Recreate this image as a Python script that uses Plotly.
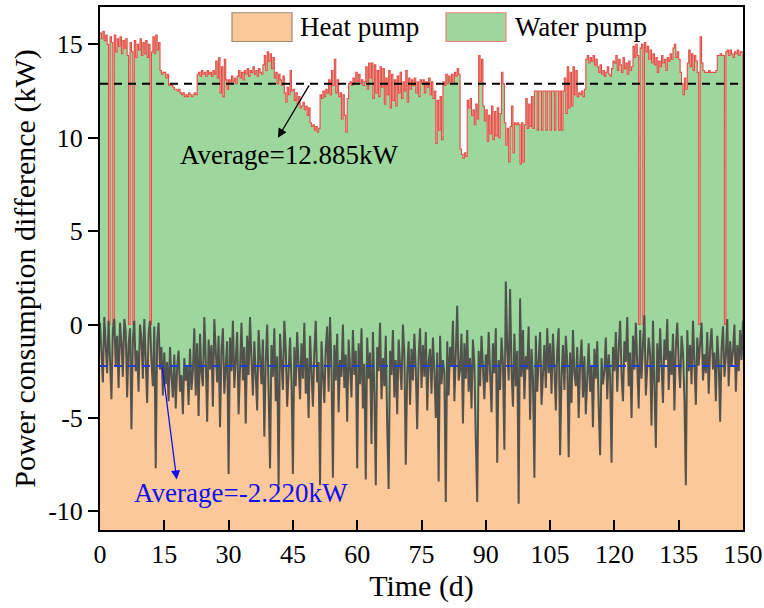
import numpy as np
import plotly.graph_objects as go

# ---------------- data (3 samples per day, day 0 .. 150) -------------
heat_pump_kw = [
    # days 0-15
    0.1, -1.2, -3.1, 0.4, -0.9, -2.6, 0.2, -1.8, -4.0, -0.3, 0.3, -2.2, -0.6, -3.4, 0.1,
    -1.0, -2.8, 0.3, -0.4, -3.9, -1.1, -0.2, -5.6, -0.8, 0.2, -2.5, -1.4, -3.6, 0.0, -0.7,
    -2.9, 0.3, -1.6, -4.2, -0.5, 0.2, -2.0, -3.3, -0.1, -7.7, -0.9, 0.1, -2.4, -1.2, -3.8,
    # days 15-30
    -1.5, -3.2, -2.0, -4.1, -1.2, -2.8, -3.9, -1.6, -4.5, -2.3, -1.4, -3.6, -2.7, -4.8, -1.8,
    -3.0, -2.2, -4.3, -1.3, -3.5, -2.5, -0.2, -3.8, -1.0, -4.9, -0.5, -2.6, -3.3, 0.4, -1.9,
    -5.2, -0.8, -2.4, -1.1, -4.4, 0.3, -2.0, -3.1, -0.6, -5.5, -1.4, -0.2, -3.7, -2.3, -0.9,
    # days 30-45
    -8.0, -0.7, -2.5, 0.2, -3.4, -1.6, -0.4, -4.8, -2.1, 0.1, -3.0, -1.2, -5.3, -0.6, -2.7,
    0.4, -1.9, -3.8, -0.9, -2.4, -4.6, -0.3, -1.5, -3.2, -0.8, -6.0, -2.0, 0.0, -3.6, -7.7,
    -1.1, -2.8, -0.2, -4.1, -1.7, -8.6, -0.5, -2.3, -3.5, 0.2, -1.4, -4.4, -2.6, -0.7, -3.0,
    # days 45-60
    -8.0, -1.2, -3.3, -0.4, -2.5, -4.0, -1.0, -2.9, 0.1, -3.7, -1.8, -5.0, -0.6, -2.2, -4.4,
    -1.5, 0.2, -3.1, -2.0, -8.6, -0.9, -2.6, -4.2, -1.3, -0.1, -3.6, 0.4, -2.4, -8.2, -1.1,
    -3.0, -0.5, -4.7, -1.9, -2.8, 0.0, -3.4, -1.6, -5.2, -0.8, -2.3, -3.9, -0.3, -2.7, -1.4,
    # days 60-75
    -7.7, -1.0, -3.2, -0.2, -4.5, -2.1, -8.3, -0.7, -2.9, -1.5, -6.4, -0.4, -3.6, -8.6, -1.2,
    -2.5, 0.1, -4.0, -1.8, -3.3, -0.6, -5.4, -8.8, -1.4, -2.7, -0.3, -3.9, -1.9, -4.8, -0.8,
    -2.2, -3.5, 0.0, -1.6, -7.5, -2.6, -0.9, -4.3, -1.3, -3.0, -0.5, -2.4, -5.6, -1.7, -0.2,
    # days 75-90
    -3.4, -1.1, -2.8, -0.4, -4.6, -2.0, -1.3, -3.7, -0.7, -2.5, -5.0, -1.5, -8.4, -0.6, -3.2,
    -1.9, -2.6, -9.5, -0.9, -3.8, -1.2, -2.2, 0.2, -4.1, -1.7, 1.0, -3.0, -2.4, -0.5, -5.3,
    -1.0, -2.9, -0.3, -3.6, -1.8, -4.5, -0.8, -2.1, -6.2, -9.5, -1.4, -3.3, -0.6, -2.7, -4.0,
    # days 90-105
    -1.6, -3.1, -0.4, -2.3, -4.7, -1.0, -2.6, -0.2, -7.4, -1.9, -3.5, -0.7, -2.1, -6.7, 2.3,
    -1.2, -3.0, 1.9, -2.5, -4.4, -0.5, -3.3, -1.4, -9.6, 1.4, -2.8, -0.3, -4.0, -1.7, -2.4,
    -0.1, -5.1, -1.3, -2.9, -8.2, -0.6, -3.6, -1.9, -0.4, -4.3, -2.2, -1.1, -3.4, -0.2, -2.6,
    # days 105-120
    -1.0, -3.7, -0.5, -2.3, -4.6, -1.4, -0.2, -7.0, -2.8, -1.1, -3.5, -0.6, -2.0, -7.1, -1.5,
    -4.2, -0.3, -2.6, -3.3, -1.2, -5.0, -2.1, -0.8, -3.9, -1.7, -4.8, -2.4, -1.0, -3.6, -2.2,
    -5.5, -1.3, -2.9, -0.9, -4.4, -7.0, -1.8, -3.2, -2.5, -0.7, -4.0, -1.6, -2.8, -7.4, -1.2,
    # days 120-135
    -2.5, -0.4, -3.6, -1.3, 0.2, -2.7, -4.1, -0.9, -2.0, 0.4, -3.3, -1.5, -5.0, -0.6, -2.4,
    0.1, -1.8, -4.5, -0.3, -2.9, -1.1, 0.5, -3.8, -2.2, -0.7, -1.6, -5.4, 0.2, -2.6, -6.6,
    -1.0, -3.1, -0.2, -2.3, -4.2, -0.8, -1.9, 0.3, -3.5, -1.4, -2.7, -0.5, -4.6, -1.2, 0.1,
    # days 135-150
    -2.1, -3.4, -0.6, -1.5, -4.0, -8.6, -0.3, -2.5, -1.1, -3.2, 0.2, -1.8, -4.3, -0.7, -2.2,
    -1.0, 0.1, -3.0, -1.6, -2.6, -0.4, -3.7, -1.2, -0.2, -2.4, -1.5, -4.1, -0.6, -2.0, -5.2,
    -1.3, -0.1, -2.8, -1.7, 0.3, -3.3, -0.9, -2.2, -1.4, 0.0, -3.6, -1.1, -2.5, -0.3, -1.9,
    0.2,
]

water_pump_kw = [
    # days 0-15
    15.6, 15.3, 15.7, 15.2, 15.5, 15.0, 0.0, 15.4, 15.1, 0.0, 15.5, 14.6, 15.3, 14.9, 15.4,
    14.5, 15.2, 14.8, 15.3, 14.4, 0.0, 15.1, 14.6, 0.0, 15.2, 14.3, 15.0, 14.7, 15.3, 14.4,
    15.1, 14.5, 15.2, 14.3, 15.0, 0.0, 14.6, 15.4, 14.5, 15.5, 14.7, 15.1, 13.6, 13.4, 13.5,
    # days 15-30
    13.5, 13.2, 13.4, 12.8, 12.9, 12.8, 12.7, 12.6, 12.6, 12.5, 12.6, 12.4, 12.3, 12.4, 12.2,
    12.3, 12.2, 12.4, 12.3, 12.2, 12.3, 12.4, 12.3, 13.4, 13.5, 13.3, 13.6, 13.4, 13.5, 13.3,
    13.6, 13.4, 13.5, 13.3, 13.6, 13.4, 14.1, 13.2, 14.3, 12.4, 13.8, 12.2, 14.2, 13.1, 12.6,
    # days 30-45
    13.1, 12.9, 13.3, 13.0, 13.2, 12.9, 13.3, 13.6, 13.2, 13.5, 13.1, 13.6, 13.4, 13.7, 13.3,
    13.6, 13.5, 13.8, 13.4, 13.6, 13.3, 13.7, 13.5, 13.4, 13.9, 14.4, 13.6, 14.6, 14.1, 14.5,
    13.7, 14.3, 13.2, 13.5, 12.9, 13.4, 13.1, 12.8, 13.3, 12.4, 11.9, 12.7, 12.3, 13.6, 12.5,
    # days 45-60
    12.6, 12.0, 12.4, 11.8, 12.2, 11.6, 11.7, 11.9, 11.5, 11.7, 11.2, 11.6, 10.8, 10.6, 10.7,
    10.4, 10.6, 10.3, 10.5, 12.3, 12.1, 12.5, 12.2, 12.6, 12.4, 13.1, 12.3, 13.6, 12.8, 14.2,
    12.4, 13.1, 12.2, 12.4, 11.0, 12.3, 11.2, 10.3, 12.1, 12.9, 13.0, 12.8, 13.2, 12.9, 13.5,
    # days 60-75
    13.0, 13.4, 12.9, 13.1, 12.8, 13.0, 13.8, 12.6, 14.0, 13.2, 14.0, 12.1, 13.9, 12.4, 13.6,
    12.2, 13.8, 12.7, 13.7, 11.8, 13.2, 12.3, 13.6, 11.6, 13.4, 12.0, 13.1, 11.7, 13.3, 12.4,
    13.5, 12.1, 13.0, 12.5, 13.6, 11.9, 13.2, 12.6, 13.1, 12.8, 13.2, 12.4, 13.0, 12.2, 13.1,
    # days 75-90
    12.9, 13.1, 12.4, 13.0, 12.7, 13.2, 12.3, 13.0, 12.1, 12.5, 9.7, 12.0, 10.4, 12.2, 9.9,
    13.0, 12.8, 13.4, 12.9, 13.3, 13.0, 13.4, 12.9, 13.5, 13.3, 13.7, 13.4, 9.4, 9.1, 8.9,
    9.2, 9.0, 12.0, 11.6, 12.1, 11.2, 11.5, 10.7, 11.8, 11.0, 14.4, 13.0, 14.2, 11.7, 10.9,
    # days 90-105
    11.5, 9.8, 11.2, 10.2, 11.7, 9.9, 11.4, 10.1, 11.6, 10.0, 11.3, 13.5, 12.9, 10.8, 9.6,
    10.5, 8.7, 10.6, 11.7, 9.2, 10.8, 10.7, 10.8, 10.7, 8.6, 10.8, 8.7, 10.7, 12.1, 10.5,
    11.8, 10.6, 12.2, 10.5, 12.5, 12.5, 10.4, 12.5, 12.5, 10.4, 12.5, 12.5, 10.4, 12.5, 12.5,
    # days 105-120
    10.4, 12.5, 12.5, 10.4, 12.5, 12.5, 10.4, 12.5, 10.4, 12.5, 13.2, 11.3, 13.8, 11.6, 13.5,
    11.7, 13.8, 12.3, 13.6, 12.2, 12.4, 12.3, 12.5, 12.2, 12.6, 14.2, 14.4, 14.0, 14.3, 14.1,
    14.4, 13.9, 14.2, 13.8, 13.5, 13.9, 13.4, 13.6, 13.3, 13.5, 13.8, 13.4, 13.3, 13.7, 14.1,
    # days 120-135
    14.0, 14.4, 13.6, 14.2, 13.9, 13.5, 14.3, 13.7, 14.0, 13.4, 14.1, 13.6, 13.8, 14.9, 14.3,
    15.0, 14.4, 0.0, 14.8, 15.0, 0.0, 15.1, 14.6, 14.9, 14.2, 14.7, 14.0, 14.5, 13.9, 14.3,
    13.5, 14.1, 13.8, 14.4, 14.0, 14.2, 13.6, 14.3, 14.1, 14.5, 14.2, 14.8, 15.0, 14.3, 14.6,
    # days 135-150
    14.2, 13.5, 12.9, 12.3, 13.2, 12.6, 14.0, 14.7, 13.8, 14.5, 13.6, 14.4, 14.1, 13.5, 0.0,
    15.4, 14.0, 13.6, 13.5, 13.5, 13.5, 13.6, 13.5, 13.5, 13.5, 13.5, 13.6, 14.4, 14.4, 14.5,
    14.4, 14.4, 0.0, 14.6, 14.7, 14.4, 14.7, 14.5, 14.3, 14.6, 14.5, 14.7, 14.4, 14.6, 14.6,
    0.0,
]

heat_avg_kw = -2.220
water_avg_kw = 12.885
x_ticks = [0, 15, 30, 45, 60, 75, 90, 105, 120, 135, 150]
y_ticks = [-10, -5, 0, 5, 10, 15]
y_tick_labels = ["-10", "-5", "0", "5", "10", "15"]
series_names = ["Heat pump", "Water pump"]

# ---------------- figure -------------
X_MIN, X_MAX = 0, 150
Y_MIN, Y_MAX = -11.0, 17.0
FONT = "Liberation Serif"

t_heat = np.linspace(X_MIN, X_MAX, len(heat_pump_kw))
t_water = np.linspace(X_MIN, X_MAX, len(water_pump_kw))

ORANGE = "#FBC899"
GREEN = "#9DD79D"
RED = "rgba(240,55,55,0.9)"
GRAY = "rgba(65,65,65,0.88)"

fig = go.Figure()
# baseline at the bottom of the axis for the water-pump fill
fig.add_trace(go.Scatter(x=[X_MIN, X_MAX], y=[Y_MIN, Y_MIN], mode="lines",
                         line=dict(width=0), showlegend=False, hoverinfo="skip"))
fig.add_trace(go.Scatter(x=t_water, y=water_pump_kw, mode="lines", name=series_names[1],
                         line=dict(color=RED, width=1.1, shape="hv"),
                         fill="tonexty", fillcolor=GREEN, showlegend=False))
fig.add_trace(go.Scatter(x=[X_MIN, X_MAX], y=[Y_MIN, Y_MIN], mode="lines",
                         line=dict(width=0), showlegend=False, hoverinfo="skip"))
fig.add_trace(go.Scatter(x=t_heat, y=heat_pump_kw, mode="lines", name=series_names[0],
                         line=dict(color=GRAY, width=2.0),
                         fill="tonexty", fillcolor=ORANGE, showlegend=False))

# average lines
fig.add_shape(type="line", xref="x", yref="y", x0=X_MIN, x1=X_MAX, y0=water_avg_kw, y1=water_avg_kw,
              line=dict(color="black", width=2, dash="8px,6px"))
fig.add_shape(type="line", xref="x", yref="y", x0=X_MIN, x1=X_MAX, y0=heat_avg_kw, y1=heat_avg_kw,
              line=dict(color="#1F3FD0", width=2, dash="8px,6px"))

# average annotations with arrows
fig.add_annotation(x=41.5, y=10.0, ax=49.0, ay=water_avg_kw, xref="x", yref="y", axref="x", ayref="y",
                   text="", showarrow=True, arrowhead=2, arrowsize=1.4, arrowwidth=1.3, arrowcolor="black")
fig.add_annotation(x=44.0, y=9.05, xref="x", yref="y", showarrow=False,
                   text=f"Average={water_avg_kw:.3f}kW",
                   font=dict(family=FONT, size=27, color="black"))
fig.add_annotation(x=17.9, y=-8.3, ax=14.5, ay=heat_avg_kw, xref="x", yref="y", axref="x", ayref="y",
                   text="", showarrow=True, arrowhead=2, arrowsize=1.4, arrowwidth=1.3, arrowcolor="#1010F0")
fig.add_annotation(x=33.0, y=-9.0, xref="x", yref="y", showarrow=False,
                   text=f"Average={heat_avg_kw:.3f}kW",
                   font=dict(family=FONT, size=27, color="#1010F0"))

# legend drawn as boxes + text
leg = [
    (0.2053, 0.2986, ORANGE, "#9C8A78", 0.3079, series_names[0]),
    (0.5381, 0.6314, GREEN, "#F08080", 0.6423, series_names[1]),
]
for x0, x1, fc, lc, tx, name in leg:
    fig.add_shape(type="rect", xref="paper", yref="paper", x0=x0, x1=x1, y0=0.934, y1=0.989,
                  fillcolor=fc, line=dict(color=lc, width=1.2))
    fig.add_annotation(x=tx, y=0.9615, xref="paper", yref="paper", xanchor="left", yanchor="middle",
                       showarrow=False, text=name, font=dict(family=FONT, size=27, color="black"))

fig.update_layout(
    width=764, height=608,
    margin=dict(l=100, r=21, t=7, b=78, autoexpand=False),
    paper_bgcolor="white", plot_bgcolor="white",
    font=dict(family=FONT, size=26, color="black"),
    showlegend=False,
)
fig.update_xaxes(range=[X_MIN, X_MAX], tickvals=x_ticks, ticks="inside", ticklen=10, tickwidth=2,
                 tickcolor="black", showline=True, linecolor="black", linewidth=2, mirror=True,
                 showgrid=False, zeroline=False, automargin=False,
                 title=dict(text="Time (d)", font=dict(family=FONT, size=30), standoff=2),
                 tickfont=dict(family=FONT, size=26))
fig.update_yaxes(range=[Y_MIN, Y_MAX], tickvals=y_ticks, ticktext=y_tick_labels, ticks="outside",
                 ticklen=10, tickwidth=2,
                 tickcolor="black", showline=True, linecolor="black", linewidth=2, mirror=True,
                 showgrid=False, zeroline=False, automargin=False,
                 title=dict(text="Power consumption difference (kW)", font=dict(family=FONT, size=30), standoff=4),
                 tickfont=dict(family=FONT, size=26))

fig.write_html("out.html", config={"displayModeBar": False},
               post_script="document.body.style.margin='0';document.body.style.overflow='hidden';")
